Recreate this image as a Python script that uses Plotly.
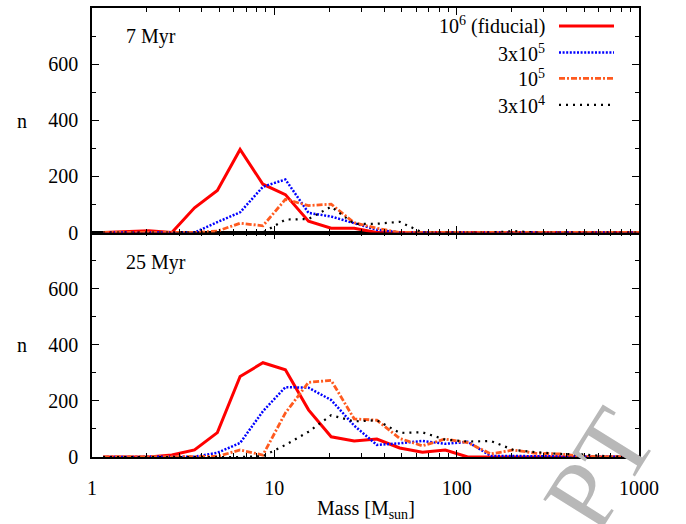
import plotly.graph_objects as go

# Mass bin centres [M_sun]
mass = [1.15, 1.54, 2.05, 2.74, 3.65, 4.87, 6.49, 8.66, 11.5, 15.4, 20.5, 27.4,
        36.5, 48.7, 64.9, 86.6, 115, 154, 205, 274, 365, 487, 649, 866, 1155]

series_names = ["10<sup>6</sup> (fiducial)", "3x10<sup>5</sup>", "10<sup>5</sup>", "3x10<sup>4</sup>"]

# 7 Myr panel
n7_fid = [0, 2, 6, 0, 88, 150, 296, 172, 135, 40, 15, 15, 0, 0, 0, 0, 0, 0, 0, 0, 0, 0, 0, 0, 0]
n7_3e5 = [0, 0, 0, 0, 0, 37, 72, 163, 189, 70, 57, 33, 10, 0, 0, 0, 0, 0, 0, 0, 0, 0, 0, 0, 0]
n7_1e5 = [0, 0, 0, 0, 0, 5, 33, 24, 118, 96, 101, 35, 15, 0, 0, 0, 0, 0, 0, 0, 0, 0, 0, 0, 0]
n7_3e4 = [0, 0, 0, 0, 0, 0, 0, 0, 46, 48, 92, 31, 31, 38, 0, 0, 0, 0, 5, 0, 0, 0, 0, 0, 0]

# 25 Myr panel
n25_fid = [0, 0, 0, 7, 25, 87, 287, 336, 311, 168, 72, 57, 64, 32, 17, 25, 0, 0, 0, 0, 0, 0, 0, 0, 0]
n25_3e5 = [0, 0, 0, 0, 1, 15, 50, 163, 249, 247, 203, 112, 43, 49, 57, 47, 54, 4, 3, 3, 2, 0, 0, 0, 0]
n25_1e5 = [0, 0, 0, 0, 0, 2, 25, 7, 157, 266, 273, 136, 131, 66, 40, 64, 51, 11, 25, 13, 11, 3, 0, 0, 0]
n25_3e4 = [0, 0, 0, 0, 0, 0, 0, 3, 43, 90, 149, 127, 131, 86, 88, 62, 55, 57, 25, 17, 11, 9, 3, 0, 0]

x_ticks = [1, 10, 100, 1000]
y_ticks = [0, 200, 400, 600]

styles = [
    dict(color="#ff0000", width=3, dash="solid"),
    dict(color="#0000ff", width=2.5, dash="2px,1.6px"),
    dict(color="#ff5a1f", width=2.8, dash="6px,2px,2px,2px"),
    dict(color="#000000", width=2.2, dash="2px,5px"),
]

FONT = "Liberation Serif"
fig = go.Figure()

for ys, xa, ya in [([n7_fid, n7_3e5, n7_1e5, n7_3e4], "x2", "y2"),
                   ([n25_fid, n25_3e5, n25_1e5, n25_3e4], "x", "y")]:
    for name, y, st in zip(series_names, ys, styles):
        fig.add_trace(go.Scatter(x=mass, y=y, mode="lines", name=name,
                                 line=st, xaxis=xa, yaxis=ya, showlegend=False))

minor_x = [m * d for d in (1, 10, 100) for m in range(2, 10)]

ax_common = dict(showline=True, linecolor="black", linewidth=1.5, mirror="allticks",
                 ticks="inside", ticklen=7, tickwidth=1.2, tickcolor="black",
                 showgrid=False, zeroline=False,
                 tickfont=dict(family=FONT, size=20, color="black"))

xax = dict(type="log", range=[0, 3], tickmode="array", tickvals=x_ticks,
           ticktext=[str(v) for v in x_ticks],
           minor=dict(ticks="inside", ticklen=4, tickwidth=1, tickcolor="black",
                      tickmode="array", tickvals=minor_x),
           **ax_common)
yax = dict(range=[0, 800], tickmode="array", tickvals=y_ticks,
           minor=dict(ticks="inside", ticklen=4, tickwidth=1, tickcolor="black", dtick=100, tick0=0),
           **ax_common)

fig.update_layout(
    width=686, height=524,
    margin=dict(l=92, r=47, t=6, b=67),
    paper_bgcolor="white", plot_bgcolor="white",
    xaxis=dict(domain=[0, 1], anchor="y", ticklabelstandoff=12, **xax),
    yaxis=dict(domain=[0, 0.5], anchor="x", ticklabelstandoff=8, **yax),
    xaxis2=dict(domain=[0, 1], anchor="y2", matches="x", showticklabels=False, **xax),
    yaxis2=dict(domain=[0.5, 1], anchor="x2", ticklabelstandoff=8, **yax),
    font=dict(family=FONT, size=20, color="black"),
)

def py(ypx):
    return (457 - ypx) / 451

def px(xpx):
    return (xpx - 92) / 547

ann = []
ann.append(dict(text="Mass [M<sub>sun</sub>]", x=0.5, y=py(510), xref="paper", yref="paper",
                showarrow=False, xanchor="center", yanchor="middle"))
for yy in (120, 345):
    ann.append(dict(text="n", x=px(22), y=py(yy), xref="paper", yref="paper",
                    showarrow=False, xanchor="center", yanchor="middle"))
ann.append(dict(text="7 Myr", x=px(124), y=py(35), xref="paper", yref="paper",
                showarrow=False, xanchor="left", yanchor="middle"))
ann.append(dict(text="25 Myr", x=px(124), y=py(262), xref="paper", yref="paper",
                showarrow=False, xanchor="left", yanchor="middle"))

leg_y = [24, 50.7, 76.7, 103.3]
shapes = []
for name, st, ly in zip(series_names, styles, leg_y):
    ann.append(dict(text=name, x=px(547), y=py(ly), xref="paper", yref="paper",
                    showarrow=False, xanchor="right", yanchor="middle"))
    shapes.append(dict(type="line", xref="paper", yref="paper",
                       x0=px(559), x1=px(614), y0=py(ly), y1=py(ly), line=st))

# watermark fragment
ann.append(dict(text="PT", x=px(600), y=py(470), xref="paper", yref="paper",
                showarrow=False, xanchor="center", yanchor="middle", textangle=-58,
                font=dict(family=FONT, size=100, color="#b8b8b8")))

fig.update_layout(annotations=ann, shapes=shapes)
fig.write_html("out.html")
